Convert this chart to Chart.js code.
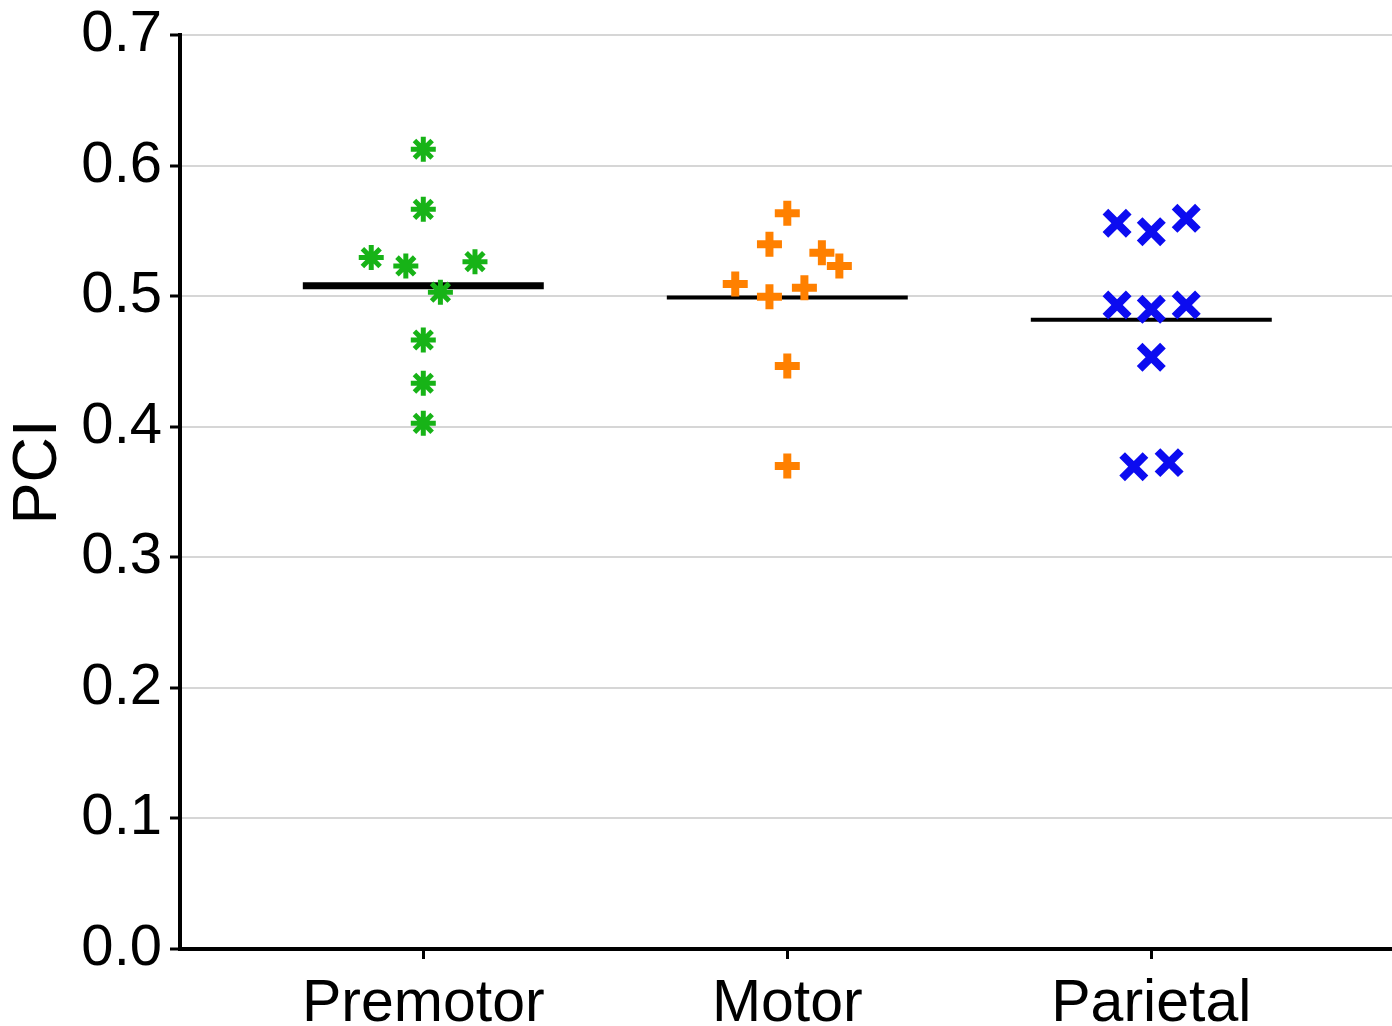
<!doctype html>
<html>
<head>
<meta charset="utf-8">
<title>PCI by region</title>
<script src="https://cdn.jsdelivr.net/npm/chart.js@4"></script>
<style>
  body { margin: 0; background: #fff; }
  #wrap { width: 1392px; height: 1026px; }
</style>
</head>
<body>
<div id="wrap"><canvas id="c"></canvas></div>
<script>
// categories sit at x = 1, 2, 3; the small x offsets are the scatter jitter
const categories = ['Premotor', 'Motor', 'Parietal'];
const yTicks = [0.0, 0.1, 0.2, 0.3, 0.4, 0.5, 0.6, 0.7];

const premotorX = [1, 1, 0.857, 0.952, 1.142, 1.047, 1, 1, 1];
const premotorY = [0.6125, 0.5665, 0.5295, 0.5231, 0.5264, 0.5030, 0.4664, 0.4333, 0.4026];

const motorX = [2, 1.951, 2.095, 2.143, 1.857, 1.951, 2.047, 2, 2];
const motorY = [0.5634, 0.5397, 0.5333, 0.5231, 0.5093, 0.4996, 0.5065, 0.4465, 0.3699];

const parietalX = [2.906, 3, 3.096, 2.906, 3, 3.096, 3, 2.952, 3.049];
const parietalY = [0.5558, 0.5494, 0.5596, 0.4932, 0.4899, 0.4932, 0.4532, 0.3694, 0.3725];

// mean bars
const means = [0.508, 0.499, 0.482];

const FONT = "'Liberation Sans', Arial, sans-serif";
const HALF = 0.331; // half length of a mean bar, in category units

function pts(xs, ys) { return xs.map((x, i) => ({ x: x, y: ys[i] })); }
function meanLine(i) { return [{ x: i + 1 - HALF, y: means[i] }, { x: i + 1 + HALF, y: means[i] }]; }

// y title drawn by hand: it sits a bit above the axis centre in the original
const yTitle = {
  id: 'yTitle',
  afterDraw(chart) {
    const ctx = chart.ctx;
    ctx.save();
    ctx.translate(39, 472);
    ctx.rotate(-Math.PI / 2);
    ctx.font = '63px ' + FONT;
    ctx.fillStyle = '#000';
    ctx.textAlign = 'center';
    ctx.textBaseline = 'middle';
    ctx.fillText('PCI', 0, 0);
    ctx.restore();
  }
};

new Chart(document.getElementById('c'), {
  type: 'scatter',
  data: {
    datasets: [
      { label: 'Premotor', data: pts(premotorX, premotorY), pointStyle: 'star', pointRadius: 12.5,
        borderColor: '#17b317', backgroundColor: '#17b317', pointBorderWidth: 5, order: 0 },
      { label: 'Motor', data: pts(motorX, motorY), pointStyle: 'cross', pointRadius: 12.5,
        borderColor: '#ff8000', backgroundColor: '#ff8000', pointBorderWidth: 8, order: 0 },
      { label: 'Parietal', data: pts(parietalX, parietalY), pointStyle: 'crossRot', pointRadius: 16.5,
        borderColor: '#0c0cf0', backgroundColor: '#0c0cf0', pointBorderWidth: 8, order: 0 },
      { type: 'line', data: meanLine(0), borderColor: '#000', borderWidth: 7, pointRadius: 0, order: 1 },
      { type: 'line', data: meanLine(1), borderColor: '#000', borderWidth: 4, pointRadius: 0, order: 1 },
      { type: 'line', data: meanLine(2), borderColor: '#000', borderWidth: 4, pointRadius: 0, order: 1 },
    ]
  },
  options: {
    responsive: true,
    maintainAspectRatio: false,
    animation: false,
    events: [],
    layout: { padding: 0, autoPadding: false },
    plugins: { legend: { display: false }, tooltip: { enabled: false } },
    scales: {
      x: {
        type: 'linear',
        min: 0.3316,
        max: 3.6613,
        afterBuildTicks: (s) => { s.ticks = categories.map((_, i) => ({ value: i + 1 })); },
        afterFit: (s) => { s.height = 77; s.paddingLeft = 0; s.paddingRight = 0; },
        ticks: {
          autoSkip: false, maxRotation: 0, padding: 10, color: '#000',
          font: { family: FONT, size: 59 },
          callback: (v) => categories[v - 1],
        },
        grid: { drawOnChartArea: false, drawTicks: true, tickLength: 10, tickColor: '#000', tickWidth: 3 },
        border: { display: true, color: '#000', width: 4 },
      },
      y: {
        min: 0,
        max: 0.7,
        afterBuildTicks: (s) => { s.ticks = yTicks.map(v => ({ value: v })); },
        afterFit: (s) => { s.width = 180; s.paddingTop = 35; s.paddingBottom = 0; },
        ticks: {
          padding: 8, color: '#000',
          font: { family: FONT, size: 58 },
          callback: (v) => Number(v).toFixed(1),
        },
        grid: { color: '#d6d6d6', lineWidth: 2, drawTicks: true, tickLength: 10, tickColor: '#000', tickWidth: 3 },
        border: { display: true, color: '#000', width: 4 },
      }
    }
  },
  plugins: [yTitle]
});
</script>
</body>
</html>
